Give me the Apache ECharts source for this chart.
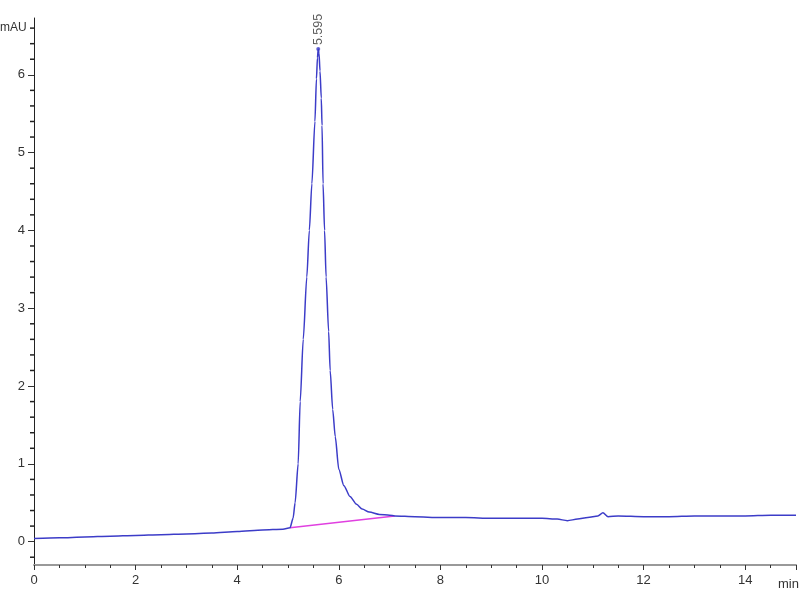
<!DOCTYPE html>
<html>
<head>
<meta charset="utf-8">
<script src="https://cdn.jsdelivr.net/npm/echarts@6/dist/echarts.min.js"></script>
<style>html,body{margin:0;padding:0;background:#fff}#c{width:800px;height:600px}</style>
</head>
<body>
<div id="c"></div>
<script>
const times = [0,0.5,1,1.5,2,2.5,3,3.5,4,4.5,4.9,5.04,5.1,5.14,5.2,5.24,5.3,5.37,5.42,5.47,5.53,5.56,5.58,5.595,5.61,5.63,5.655,5.67,5.69,5.72,5.75,5.8,5.83,5.88,5.93,6.0,6.1,6.22,6.35,6.46,6.6,6.8,7.0,7.1,7.5,8,8.5,9,9.5,10,10.3,10.5,10.7,10.9,11.1,11.2,11.3,11.5,12,12.5,13,13.5,14,14.5,15];
const signal = [0.04,0.05,0.06,0.07,0.08,0.09,0.10,0.11,0.13,0.15,0.16,0.18,0.3,0.5,1.0,1.8,2.6,3.4,4.0,4.6,5.4,5.95,6.22,6.33,6.28,6.05,5.7,5.35,4.6,4.0,3.4,2.7,2.2,1.7,1.35,0.93,0.72,0.58,0.48,0.42,0.38,0.35,0.34,0.33,0.32,0.31,0.31,0.30,0.30,0.30,0.29,0.27,0.29,0.31,0.33,0.37,0.32,0.33,0.32,0.32,0.33,0.33,0.33,0.34,0.34];
const baselineTimes = [5.04, 7.1];
const baselineValues = [0.18, 0.33];
const peakTime = 5.595;
const peakValue = 6.33;
const peakLabel = '5.595';
const yMajorTicks = [0,1,2,3,4,5,6];
const yMinorTicks = [-0.2,0.2,0.4,0.6,0.8,1.2,1.4,1.6,1.8,2.2,2.4,2.6,2.8,3.2,3.4,3.6,3.8,4.2,4.4,4.6,4.8,5.2,5.4,5.6,5.8,6.2,6.4,6.6];

const mainData = times.map((t, i) => [t, signal[i]]);
const baseData = baselineTimes.map((t, i) => [t, baselineValues[i]]);
const minorTickData = yMinorTicks.map(v => [0, v]);

const chart = echarts.init(document.getElementById('c'));
chart.setOption({
  animation: false,
  backgroundColor: '#fff',
  grid: {left: 34, right: 4, top: 18, bottom: 35},
  xAxis: {
    type: 'value', min: 0, max: 15, interval: 2,
    axisLine: {show: true, onZero: false, lineStyle: {color: '#999', width: 2}},
    axisTick: {show: true, length: 5, lineStyle: {color: '#333'}},
    minorTick: {show: true, splitNumber: 4, length: 3, lineStyle: {color: '#333'}},
    splitLine: {show: false},
    axisLabel: {color: '#333', fontSize: 13, margin: 9, fontFamily: 'Liberation Sans', formatter: v => (v >= 15 ? '' : String(v))}
  },
  yAxis: {
    type: 'value', min: -0.3, max: 6.73,
    axisLine: {show: true, onZero: false, lineStyle: {color: '#222', width: 1}},
    axisTick: {show: true, length: 6, customValues: yMajorTicks, lineStyle: {color: '#333'}},
    axisLabel: {color: '#333', fontSize: 13, margin: 9, fontFamily: 'Liberation Sans', customValues: yMajorTicks},
    splitLine: {show: false}
  },
  series: [{
    type: 'line', data: mainData,
    showSymbol: false, symbol: 'none', smooth: 0.25, smoothMonotone: 'x',
    lineStyle: {color: '#3c3cc8', width: 1.5},
    z: 3
  }, {
    type: 'line', data: baseData,
    symbol: 'none',
    lineStyle: {color: '#e040e0', width: 1.5},
    z: 2
  }, {
    type: 'scatter', data: [[peakTime, peakValue]],
    symbolSize: 4, itemStyle: {color: '#3c3cc8'},
    label: {show: true, formatter: peakLabel, position: 'top', rotate: 90, align: 'left', verticalAlign: 'middle', distance: 2, fontSize: 12.5, color: '#333', fontFamily: 'Liberation Sans'},
    z: 4
  }, {
    type: 'scatter', data: minorTickData, clip: false, silent: true,
    symbol: 'rect', symbolSize: [4, 1.5], symbolOffset: [-2, 0],
    itemStyle: {color: '#222', opacity: 1},
    z: 10
  }],
  graphic: [
    {type: 'text', left: 0, top: 22, style: {text: 'mAU', fontSize: 12, fill: '#333', fontFamily: 'Liberation Sans'}},
    {type: 'text', left: 778, top: 578, style: {text: 'min', fontSize: 13, fill: '#333', fontFamily: 'Liberation Sans'}}
  ]
});
</script>
</body>
</html>
